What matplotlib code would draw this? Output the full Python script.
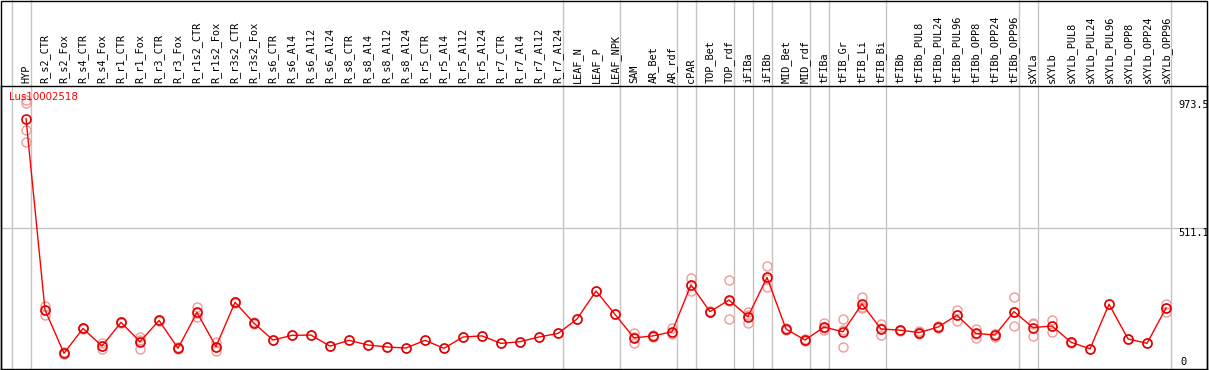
import matplotlib
matplotlib.use("Agg")
import matplotlib.pyplot as plt
from matplotlib.patches import Rectangle

gene = "Lus10002518"

samples = ["HYP", "R_s2_CTR", "R_s2_Fox", "R_s4_CTR", "R_s4_Fox", "R_r1_CTR", "R_r1_Fox",
           "R_r3_CTR", "R_r3_Fox", "R_r1s2_CTR", "R_r1s2_Fox", "R_r3s2_CTR", "R_r3s2_Fox",
           "R_s6_CTR", "R_s6_Al4", "R_s6_Al12", "R_s6_Al24", "R_s8_CTR", "R_s8_Al4",
           "R_s8_Al12", "R_s8_Al24", "R_r5_CTR", "R_r5_Al4", "R_r5_Al12", "R_r5_Al24",
           "R_r7_CTR", "R_r7_Al4", "R_r7_Al12", "R_r7_Al24", "LEAF_N", "LEAF_P", "LEAF_NPK",
           "SAM", "AR_Bet", "AR_rdf", "cPAR", "TOP_Bet", "TOP_rdf", "iFIBa", "iFIBb",
           "MID_Bet", "MID_rdf", "tFIBa", "tFIB_Gr", "tFIB_Li", "tFIB_Bi", "tFIBb",
           "tFIBb_PUL8", "tFIBb_PUL24", "tFIBb_PUL96", "tFIBb_OPP8", "tFIBb_OPP24",
           "tFIBb_OPP96", "sXYLa", "sXYLb", "sXYLb_PUL8", "sXYLb_PUL24", "sXYLb_PUL96",
           "sXYLb_OPP8", "sXYLb_OPP24", "sXYLb_OPP96"]

means = [908, 214, 57, 147, 83, 169, 99, 176, 75, 205, 81, 242, 166,
         105, 122, 123, 83, 104, 87, 80, 76, 104, 75, 116, 120, 93, 99, 116, 129,
         181, 283, 198, 113, 120, 135, 305, 208, 250, 190, 332, 145, 105,
         152, 135, 236, 145, 141, 132, 152, 195, 129, 123, 208,
         150, 156, 97, 73, 235, 109, 93, 221]

replicates = [[973.5, 965, 866, 823], [229, 196, 214], [57, 60, 54], [150, 145, 147],
              [93, 74, 83], [172, 166, 169], [117, 74, 105], [178, 175, 176], [78, 72, 75],
              [224, 190, 203], [99, 66, 78], [244, 240, 242], [162, 169, 166],
              [105], [122], [123], [83], [104], [87], [80], [76], [104], [75], [116],
              [120], [93], [99], [116], [129], [181], [283], [198],
              [129, 95, 115], [116, 123, 120], [150, 126, 130], [329, 283, 303],
              [205, 211, 208], [323, 181, 246], [208, 166, 196], [373, 296, 327],
              [148, 141, 146], [108, 101, 106], [168, 141, 147], [181, 80, 141],
              [262, 220, 226], [163, 122, 150], [143, 139, 141], [136, 126, 134],
              [156, 148, 152], [214, 175, 196], [146, 113, 128], [117, 126, 126],
              [262, 157, 205], [168, 120, 162], [178, 133, 157], [99, 94, 97],
              [73], [235], [109], [93], [235, 207, 221]]

# group separators: after these sample indices
group_ends = [-1, 0, 28, 31, 34, 35, 37, 38, 39, 41, 42, 45, 52, 53, 60]

y_ticks = [973.5, 511.1, 0]
y_tick_labels = ["973.5", "511.1", "0"]

W, H = 1209, 370
fig = plt.figure(figsize=(W / 100, H / 100), dpi=100)
# plot area in pixels: x 1..1207, y 86..369
ax = fig.add_axes([1 / W, 1 / H, 1206 / W, 283 / H])

n = len(samples)
x = list(range(n))
# 19 px per sample, first sample at pixel 26
ax.set_xlim((1 - 26) / 19, (1207 - 26) / 19)
ax.set_ylim(0, 1026)
ax.set_xticks([])
ax.set_yticks([])
for s in ax.spines.values():
    s.set_color("black")
    s.set_linewidth(1.0)

top_frac = 369 / 283
for g in group_ends:
    ax.axvline(g + 0.25, ymin=0, ymax=top_frac, color="#c4c4c4", lw=1, clip_on=False, zorder=1)
ax.axhline(511.1, color="#c4c4c4", lw=1, zorder=1)

# replicates
for i, reps in enumerate(replicates):
    ax.plot([i] * len(reps), reps, linestyle="none", marker="o", ms=6.5, mfc="none",
            mec="#f09a9a", mew=1.0, zorder=2)
ax.plot(x, means, color="red", lw=1, zorder=3)
ax.plot(x, means, linestyle="none", marker="o", ms=6.5, mfc="none", mec="#e00000", mew=1.2, zorder=4)

# sample labels in the header band
for i, name in enumerate(samples):
    ax.text(i, 1 + 3 / 283, name, rotation=90, ha="center", va="bottom",
            fontsize=7.4, family="DejaVu Sans Mono", transform=ax.get_xaxis_transform(),
            clip_on=False)

fig.text(9 / W, 1 - 97 / H, gene, color="red", fontsize=7.4, family="DejaVu Sans",
         va="center", ha="left")

# value labels on the right
xr = (1178 - 26) / 19
ax.text(xr, y_ticks[0], y_tick_labels[0], va="top", ha="left", fontsize=7.4, family="DejaVu Sans Mono")
ax.text(xr, y_ticks[1], y_tick_labels[1], va="top", ha="left", fontsize=7.4, family="DejaVu Sans Mono")
ax.text(xr + 0.15, y_ticks[2] + 8, y_tick_labels[2], va="bottom", ha="left", fontsize=7.4,
        family="DejaVu Sans Mono")

fig.add_artist(Rectangle((1 / W, 0.5 / H), 1206 / W, 369 / H, transform=fig.transFigure,
                         fill=False, edgecolor="black", lw=1.0))

fig.savefig("out.png", dpi=100)
